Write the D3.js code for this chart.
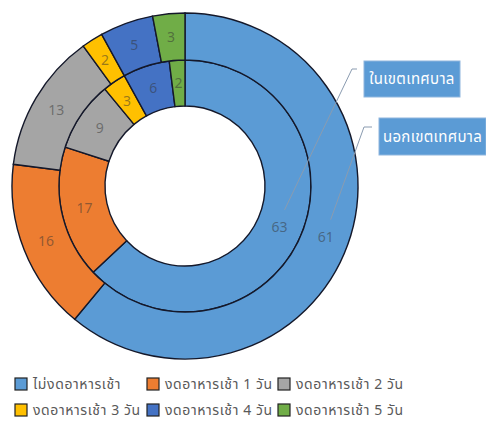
<!DOCTYPE html>
<html>
<head>
<meta charset="utf-8">
<script src="https://cdn.jsdelivr.net/npm/d3@7"></script>
<style>
  html, body { margin: 0; padding: 0; background: #fff; }
  svg { display: block; font-family: "Noto Sans Thai", "Noto Sans", "DejaVu Sans", sans-serif; }
</style>
</head>
<body>
<svg id="chart" width="486" height="423"></svg>
<script>
// Breakfast-skipping categories (legend order = slice order)
const categories = [
  "ไม่งดอาหารเช้า",
  "งดอาหารเช้า 1 วัน",
  "งดอาหารเช้า 2 วัน",
  "งดอาหารเช้า 3 วัน",
  "งดอาหารเช้า 4 วัน",
  "งดอาหารเช้า 5 วัน"
];
// Inner ring: inside municipality; outer ring: outside municipality
const innerValues = [63, 17, 9, 3, 6, 2];
const outerValues = [61, 16, 13, 2, 5, 3];
const innerName = "ในเขตเทศบาล";
const outerName = "นอกเขตเทศบาล";
const colors = ["#5B9BD5", "#ED7D31", "#A5A5A5", "#FFC000", "#4472C4", "#70AD47"];

const svg = d3.select("#chart");
const cx = 185, cy = 186;
const rHole = 80, rMid = 126, rOuter = 173;

const color = d3.scaleOrdinal().domain(categories).range(colors);
const pie = d3.pie().sort(null).value(d => d.value);

const g = svg.append("g").attr("transform", `translate(${cx},${cy})`);

function ring(values, r0, r1, cls) {
  const data = pie(values.map((v, i) => ({ cat: categories[i], value: v })));
  const arc = d3.arc().innerRadius(r0).outerRadius(r1);
  const grp = g.append("g").attr("class", cls);
  grp.selectAll("path").data(data).join("path")
    .attr("d", arc)
    .attr("fill", d => color(d.data.cat))
    .attr("stroke", "#14182a")
    .attr("stroke-width", 1.4);
  grp.selectAll("text").data(data).join("text")
    .attr("x", d => arc.centroid(d)[0])
    .attr("y", d => arc.centroid(d)[1])
    .attr("dy", "0.35em")
    .attr("text-anchor", "middle")
    .attr("font-size", 14)
    .attr("fill", "#333")
    .attr("fill-opacity", 0.5)
    .text(d => d.data.value);
  return { data, arc };
}

const inner = ring(innerValues, rHole, rMid, "inner");
const outer = ring(outerValues, rMid, rOuter, "outer");

// Series callouts with leader lines from the first slice of each ring
function callout(ringInfo, name, box, elbow) {
  const c = ringInfo.arc.centroid(ringInfo.data[0]);
  const start = [cx + c[0] + 5, cy + c[1] - 17];
  svg.append("path")
    .attr("d", d3.line()([start, elbow, [box.x - 7, elbow[1]]]))
    .attr("fill", "none")
    .attr("stroke", "#8a9bb0")
    .attr("stroke-width", 1);
  svg.append("rect")
    .attr("x", box.x).attr("y", box.y)
    .attr("width", box.w).attr("height", box.h)
    .attr("fill", "#5B9BD5")
    .attr("stroke", "#8fb6de")
    .attr("stroke-width", 1);
  svg.append("text")
    .attr("x", box.x + box.w / 2).attr("y", box.y + box.h / 2)
    .attr("dy", "0.35em")
    .attr("text-anchor", "middle")
    .attr("font-size", 15)
    .attr("letter-spacing", 0.3)
    .attr("fill", "#fff")
    .text(name);
}
callout(inner, innerName, { x: 364, y: 61, w: 96, h: 36 }, [352, 69]);
callout(outer, outerName, { x: 379, y: 118, w: 107, h: 37 }, [364, 127]);

// Legend, three entries per row
const legendCols = [15, 147, 278];
const legendRows = [378, 404];
const legend = svg.append("g").attr("class", "legend");
categories.forEach((cat, i) => {
  const x = legendCols[i % 3], y = legendRows[Math.floor(i / 3)];
  legend.append("rect")
    .attr("x", x).attr("y", y).attr("width", 12).attr("height", 12)
    .attr("fill", color(cat))
    .attr("stroke", "#222").attr("stroke-width", 1.2);
  legend.append("text")
    .attr("x", x + 18).attr("y", y + 6)
    .attr("dy", "0.35em")
    .attr("font-size", 14)
    .attr("letter-spacing", 0.6)
    .attr("fill", "#595959")
    .text(cat);
});
</script>
</body>
</html>
